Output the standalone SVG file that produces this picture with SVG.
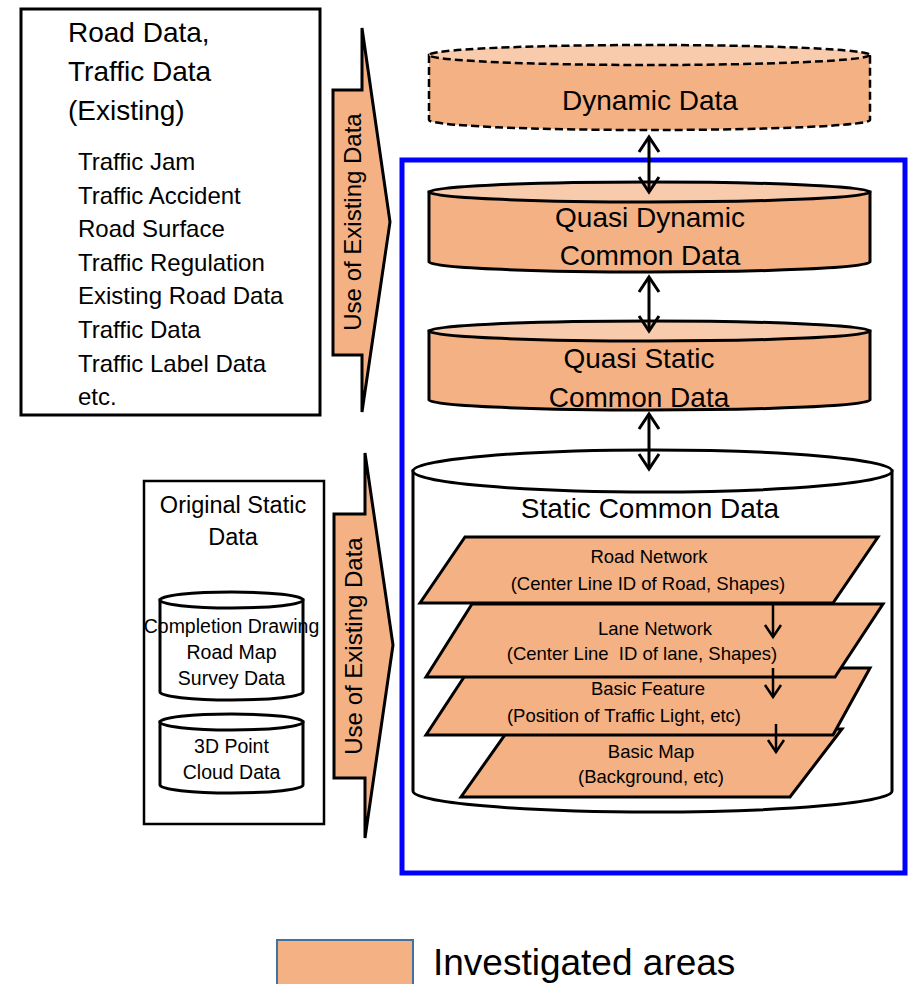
<svg xmlns="http://www.w3.org/2000/svg" width="909" height="984" viewBox="0 0 909 984">
<style>
text{font-family:"Liberation Sans",Arial,sans-serif;fill:#000}
.box{fill:#fff;stroke:#000}
.org{fill:#F4B183;stroke:#000;stroke-width:3}
.orgtop{fill:#F8CBAD;stroke:#000;stroke-width:3}
.wht{fill:#fff;stroke:#000;stroke-width:3}
.dash{stroke-dasharray:8 4;stroke-width:2.5}
.c{text-anchor:middle}
.conn{stroke:#000;fill:none}
</style>
<defs>
<marker id="vh" markerUnits="userSpaceOnUse" viewBox="-20 -14 24 28" refX="0" refY="0" markerWidth="24" markerHeight="28" orient="auto-start-reverse">
<path d="M-15,-10 L0,0 L-15,10" fill="none" stroke="#000" stroke-width="3"/>
</marker>
<marker id="vs" markerUnits="userSpaceOnUse" viewBox="-16 -11 20 22" refX="0" refY="0" markerWidth="20" markerHeight="22" orient="auto">
<path d="M-12,-8 L0,0 L-12,8" fill="none" stroke="#000" stroke-width="2.5"/>
</marker>
</defs>

<g id="existing-data">
<rect class="box" x="21" y="9" width="299" height="406" stroke-width="3"/>
<text x="68" y="42" font-size="28">Road Data,</text>
<text x="68" y="81" font-size="28">Traffic Data</text>
<text x="68" y="120" font-size="28">(Existing)</text>
<text x="78" y="170" font-size="24">Traffic Jam</text>
<text x="78" y="203.6" font-size="24">Traffic Accident</text>
<text x="78" y="237.2" font-size="24">Road Surface</text>
<text x="78" y="270.8" font-size="24">Traffic Regulation</text>
<text x="78" y="304.4" font-size="24">Existing Road Data</text>
<text x="78" y="338" font-size="24">Traffic Data</text>
<text x="78" y="371.6" font-size="24">Traffic Label Data</text>
<text x="78" y="405.2" font-size="24">etc.</text>
</g>

<g id="arrow-use-1">
<polygon class="org" points="333,90 362,90 362,28 390,222 362,412 362,355 333,355"/>
<text class="c" font-size="24" transform="translate(361,222) rotate(-90)">Use of Existing Data</text>
</g>

<g id="original-static">
<rect class="box" x="144" y="481" width="180" height="343" stroke-width="2.5"/>
<text class="c" x="233" y="513" font-size="23.5">Original Static</text>
<text class="c" x="233" y="545" font-size="23.5">Data</text>
</g>

<g id="cyl-completion">
<path class="wht" d="M160,600 V692 A71.5,8 0 0 0 303,692 V600 Z"/>
<ellipse class="wht" cx="231.5" cy="600" rx="71.5" ry="8"/>
<text class="c" x="231.5" y="633" font-size="19.5">Completion Drawing</text>
<text class="c" x="231.5" y="659" font-size="19.5">Road Map</text>
<text class="c" x="231.5" y="685" font-size="19.5">Survey Data</text>
</g>

<g id="cyl-pointcloud">
<path class="wht" d="M160,722 V785 A71.5,8 0 0 0 303,785 V722 Z"/>
<ellipse class="wht" cx="231.5" cy="722" rx="71.5" ry="8"/>
<text class="c" x="231.5" y="753" font-size="19.5">3D Point</text>
<text class="c" x="231.5" y="779" font-size="19.5">Cloud Data</text>
</g>

<g id="arrow-use-2">
<polygon class="org" points="334,514 365,514 365,453 393,645 365,838 365,778 334,778"/>
<text class="c" font-size="24" transform="translate(362,646) rotate(-90)">Use of Existing Data</text>
</g>

<g id="investigated-frame">
<rect x="402" y="160" width="503" height="713" fill="none" stroke="#0000FF" stroke-width="5"/>
</g>

<g id="dynamic-data">
<path class="org dash" d="M429,55 V120 A220.5,10 0 0 0 870,120 V55 Z"/>
<ellipse class="orgtop dash" cx="649.5" cy="55" rx="220.5" ry="10"/>
<text class="c" x="650" y="110" font-size="28">Dynamic Data</text>
</g>

<g id="quasi-dynamic">
<path class="org" d="M429,192 V262 A220.5,10 0 0 0 870,262 V192 Z"/>
<ellipse class="orgtop" cx="649.5" cy="192" rx="220.5" ry="10"/>
<text class="c" x="650" y="227" font-size="28">Quasi Dynamic</text>
<text class="c" x="650" y="265" font-size="28">Common Data</text>
</g>

<g id="quasi-static">
<path class="org" d="M429,331 V400 A220.5,10 0 0 0 870,400 V331 Z"/>
<ellipse class="orgtop" cx="649.5" cy="331" rx="220.5" ry="10"/>
<text class="c" x="639" y="368" font-size="28">Quasi Static</text>
<text class="c" x="639" y="407" font-size="28">Common Data</text>
</g>

<g id="static-common">
<path class="wht" d="M413,471 V791 A239.5,21 0 0 0 892,791 V471 Z"/>
<ellipse class="wht" cx="652.5" cy="471" rx="239.5" ry="21"/>
<text class="c" x="650" y="518" font-size="28">Static Common Data</text>
</g>

<g id="basic-map">
<polygon class="org" points="509,729 842,729 790,797 461,797"/>
<text class="c" x="651" y="758" font-size="18.5">Basic Map</text>
<text class="c" x="651" y="783" font-size="18.5">(Background, etc)</text>
</g>

<g id="basic-feature">
<polygon class="org" points="470,668 870,668 833,735 426,735"/>
<text class="c" x="648" y="695" font-size="18.5">Basic Feature</text>
<text class="c" x="624" y="722" font-size="18.5">(Position of Traffic Light, etc)</text>
</g>

<g id="lane-network">
<polygon class="org" points="472,604 883,604 835,677 426,677"/>
<text class="c" x="655" y="635" font-size="18.5">Lane Network</text>
<text class="c" x="642" y="660" font-size="18.5" xml:space="preserve">(Center Line  ID of lane, Shapes)</text>
</g>

<g id="road-network">
<polygon class="org" points="465,537 878,537 833,603 420,603"/>
<text class="c" x="649" y="563" font-size="18.5">Road Network</text>
<text class="c" x="648" y="590" font-size="18.5">(Center Line ID of Road, Shapes)</text>
</g>

<g id="connectors" class="conn">
<line x1="649" y1="137" x2="649" y2="192" stroke-width="3" marker-start="url(#vh)" marker-end="url(#vh)"/>
<line x1="649" y1="277" x2="649" y2="331" stroke-width="3" marker-start="url(#vh)" marker-end="url(#vh)"/>
<line x1="649" y1="414" x2="649" y2="469" stroke-width="3" marker-start="url(#vh)" marker-end="url(#vh)"/>
<line x1="773" y1="603" x2="773" y2="637" stroke-width="2.5" marker-end="url(#vs)"/>
<line x1="773" y1="668" x2="773" y2="697" stroke-width="2.5" marker-end="url(#vs)"/>
<line x1="776" y1="724" x2="776" y2="752" stroke-width="2.5" marker-end="url(#vs)"/>
</g>

<g id="legend">
<rect x="277" y="940" width="136" height="50" fill="#F4B183" stroke="#41719C" stroke-width="2"/>
<text x="433" y="975" font-size="37">Investigated areas</text>
</g>
</svg>
